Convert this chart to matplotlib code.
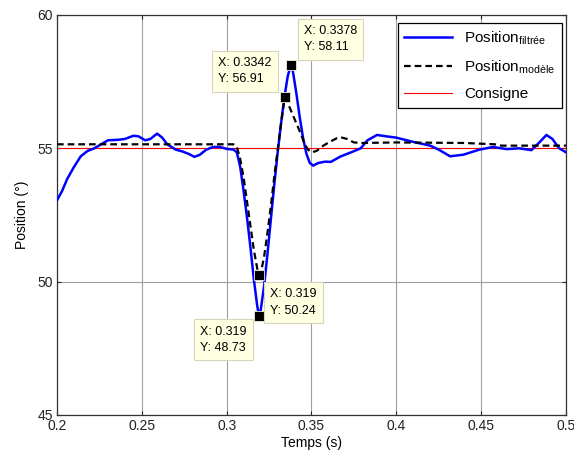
import matplotlib
matplotlib.use("Agg")
import matplotlib.pyplot as plt

plt.rcParams["font.family"] = ["Liberation Sans", "DejaVu Sans"]
plt.rcParams["mathtext.default"] = "regular"

# measured (filtered) position
t_filt = [0.200, 0.203, 0.206, 0.210, 0.214, 0.218, 0.222, 0.226, 0.230, 0.236,
          0.240, 0.245, 0.248, 0.252, 0.255, 0.259, 0.262, 0.265, 0.270, 0.274,
          0.278, 0.281, 0.284, 0.288, 0.292, 0.296, 0.300, 0.304, 0.306, 0.308,
          0.310, 0.312, 0.314, 0.316, 0.318, 0.319, 0.320, 0.322, 0.324, 0.326,
          0.328, 0.330, 0.332, 0.334, 0.336, 0.3378, 0.339, 0.341, 0.343, 0.345,
          0.347, 0.349, 0.351, 0.354, 0.358, 0.3614, 0.367, 0.373, 0.379, 0.383,
          0.3886, 0.394, 0.400, 0.410, 0.420, 0.425, 0.4317, 0.4395, 0.449, 0.457,
          0.465, 0.4725, 0.4796, 0.484, 0.4885, 0.492, 0.496, 0.500]
pos_filt = [53.05, 53.4, 53.85, 54.3, 54.7, 54.9, 55.0, 55.15, 55.3, 55.32,
            55.35, 55.47, 55.45, 55.3, 55.35, 55.55, 55.4, 55.15, 54.95, 54.88,
            54.78, 54.68, 54.75, 54.95, 55.05, 55.05, 54.98, 54.95, 54.85, 54.3,
            53.4, 52.4, 51.3, 50.1, 49.1, 48.73, 48.9, 49.8, 51.0, 52.3,
            53.6, 54.8, 55.9, 56.9, 57.7, 58.11, 57.9, 57.1, 56.2, 55.4,
            54.8, 54.45, 54.35, 54.45, 54.5, 54.49, 54.69, 54.84, 55.0, 55.3,
            55.5, 55.45, 55.4, 55.24, 55.1, 54.95, 54.7, 54.76, 54.95, 55.05,
            54.97, 55.0, 54.93, 55.2, 55.5, 55.35, 55.0, 54.85]

# model position
t_mod = [0.200, 0.300, 0.304, 0.306, 0.308, 0.310, 0.312, 0.314, 0.316, 0.318,
         0.319, 0.320, 0.322, 0.324, 0.326, 0.328, 0.330, 0.332, 0.3342, 0.336,
         0.338, 0.340, 0.342, 0.344, 0.346, 0.348, 0.350, 0.353, 0.357, 0.361,
         0.365, 0.368, 0.371, 0.375, 0.380, 0.400, 0.440, 0.458, 0.462, 0.500]
pos_mod = [55.15, 55.15, 55.15, 55.05, 54.6, 53.9, 53.0, 52.1, 51.2, 50.5,
           50.24, 50.3, 50.9, 51.8, 52.8, 53.9, 54.9, 55.9, 56.91, 56.7,
           56.4, 56.1, 55.8, 55.5, 55.15, 54.95, 54.85, 54.9, 55.1, 55.25,
           55.38, 55.4, 55.35, 55.22, 55.2, 55.22, 55.2, 55.15, 55.1, 55.1]

t_ref = [0.2, 0.5]
pos_ref = [55.0, 55.0]

# data tips: (x, y, offset px, alignment)
tips = [
    (0.3378, 58.11, (13, 12), "left", "bottom"),
    (0.3342, 56.91, (-13, 12), "right", "bottom"),
    (0.319, 50.24, (11, -13), "left", "top"),
    (0.319, 48.73, (-12, -10), "right", "top"),
]

fig = plt.figure(figsize=(5.74, 4.59), dpi=100)
ax = fig.add_axes([0.0993, 0.0959, 0.8867, 0.8715])

ax.plot(t_filt, pos_filt, color="#0000ff", lw=1.8,
        label="Position$_{filtrée}$", zorder=3)
ax.plot(t_mod, pos_mod, color="black", lw=1.6, ls=(0, (3, 1.8)),
        label="Position$_{modèle}$", zorder=4)
ax.plot(t_ref, pos_ref, color="#ff0000", lw=0.8, label="Consigne", zorder=2)

for x, y, off, ha, va in tips:
    ax.plot([x], [y], marker="s", ms=7.5, color="black", mec="#f0f0d0",
            mew=0.6, zorder=6)
    ax.annotate(f"X: {x:g}\nY: {y:.2f}", (x, y), xytext=off,
                textcoords="offset pixels", ha=ha, va=va, ma="left",
                fontsize=9, linespacing=1.5, zorder=7,
                bbox=dict(boxstyle="square,pad=0.5", fc="#ffffe1",
                          ec="#d4d4c0", lw=0.8))

ax.set_xlim(0.2, 0.5)
ax.set_ylim(45, 60)
ax.set_xticks([0.2, 0.25, 0.3, 0.35, 0.4, 0.45, 0.5])
ax.set_xticklabels(["0.2", "0.25", "0.3", "0.35", "0.4", "0.45", "0.5"])
ax.set_yticks([45, 50, 55, 60])
ax.tick_params(direction="in", top=True, right=True, labelsize=10,
               length=3, width=0.8, pad=3, colors="#222222")
ax.grid(True, color="#a0a0a0", lw=0.8)
ax.set_axisbelow(True)
for s in ax.spines.values():
    s.set_linewidth(0.9)
    s.set_color("#333333")
ax.set_xlabel("Temps (s)", fontsize=10, labelpad=2)
ax.set_ylabel("Position (°)", fontsize=10, labelpad=6)

leg = ax.legend(loc="upper right", bbox_to_anchor=(0.992, 0.981), fontsize=11,
                fancybox=False, framealpha=1, edgecolor="black",
                handlelength=3.1, borderaxespad=0, labelspacing=0.75,
                borderpad=0.45)
leg.get_frame().set_linewidth(0.9)
leg.set_zorder(8)

fig.savefig("out.png", dpi=100)
